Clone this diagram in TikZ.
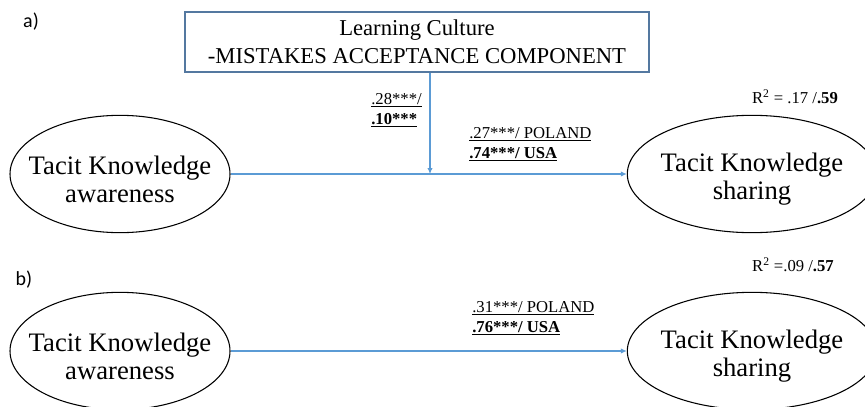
\documentclass[tikz,border=0pt]{standalone}
\usepackage{fontspec}
\setmainfont{Liberation Serif}
\newfontfamily\panelfont{Carlito}
\usetikzlibrary{positioning,arrows.meta,shapes.geometric}
\definecolor{pathblue}{RGB}{91,155,213}
\definecolor{boxblue}{RGB}{84,120,160}

\begin{document}
\begin{tikzpicture}[x=0.75pt,y=-0.75pt,>={Latex[length=4.5pt,width=4pt]},
  latent text/.style={align=center,inner sep=0pt,yshift=-4pt,font=\fontsize{20}{21}\selectfont},
  latent/.style={ellipse,draw,line width=0.8pt,inner sep=0pt,minimum width=165pt,
    minimum height=88pt,label={[latent text]center:#1}},
  wide latent/.style={latent=#1,minimum width=187pt},
  moderator/.style={rectangle,draw=boxblue,line width=0.8pt,minimum width=348pt,
    minimum height=45pt,align=center,font=\fontsize{17}{21}\selectfont},
  coef/.style={align=left,inner sep=0pt,font=\fontsize{12.5}{15}\selectfont},
  rsq/.style={inner sep=0pt,font=\fontsize{12.5}{15}\selectfont},
  panel/.style={inner sep=0pt,font=\panelfont\fontsize{15}{18}\selectfont},
  path/.style={->,draw=pathblue,line width=0.8pt}]
  \clip (0,0) rectangle (865,407);

  % a) moderated path
  \node[panel] (pa) at (31,22) {a)};
  \node[moderator] (lc) at (417,42) {Learning Culture\\-MISTAKES ACCEPTANCE COMPONENT};
  \node[latent={Tacit Knowledge\\awareness}] (aw1) at (120,174) {};
  \node[wide latent={Tacit Knowledge\\sharing}] (sh1) at (752,174) {};
  \coordinate (m1) at (430,174);

  \draw[path] (aw1) -- (sh1);
  \draw[path] (lc.south -| m1) -- (m1);

  \node[coef,anchor=west] (c1) at (371,110) {\underline{.28***/}\\\underline{\textbf{.10***}}};
  \node[coef,anchor=west] (c2) at (469,144) {\underline{.27***/ POLAND}\\\underline{\textbf{.74***/ USA}}};
  \node[rsq] (r1) at (795,97) {R\textsuperscript{2} = .17 /\textbf{.59}};

  % b) direct path
  \node[panel] (pb) at (24,280) {b)};
  \node[latent={Tacit Knowledge\\awareness}] (aw2) at (120,351) {};
  \node[wide latent={Tacit Knowledge\\sharing}] (sh2) at (752,351) {};

  \draw[path] (aw2) -- (sh2);

  \node[coef,anchor=west] (c3) at (472,318) {\underline{.31***/ POLAND}\\\underline{\textbf{.76***/ USA}}};
  \node[rsq] (r2) at (793,265) {R\textsuperscript{2} =.09 /\textbf{.57}};
\end{tikzpicture}
\end{document}
